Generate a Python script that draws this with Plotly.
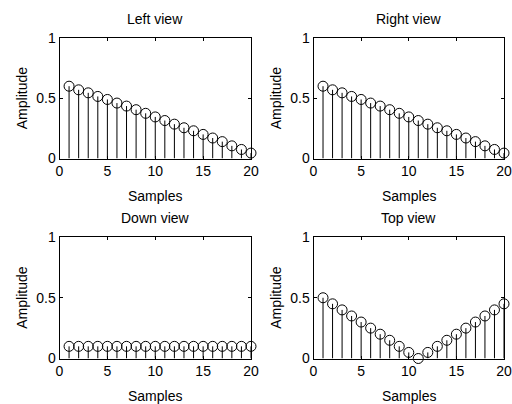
import plotly.graph_objects as go

samples = list(range(1, 21))
left_view = [0.60, 0.57, 0.545, 0.515, 0.49, 0.46, 0.435, 0.405, 0.375, 0.345,
             0.315, 0.285, 0.255, 0.23, 0.20, 0.17, 0.14, 0.105, 0.075, 0.045]
right_view = [0.60, 0.57, 0.545, 0.515, 0.49, 0.46, 0.435, 0.405, 0.375, 0.345,
              0.315, 0.285, 0.255, 0.23, 0.20, 0.17, 0.14, 0.105, 0.075, 0.045]
down_view = [0.10] * 20
top_view = [0.50, 0.45, 0.40, 0.35, 0.30, 0.25, 0.20, 0.15, 0.10, 0.05,
            0.00, 0.05, 0.10, 0.15, 0.20, 0.25, 0.30, 0.35, 0.40, 0.45]

titles = ["Left view", "Right view", "Down view", "Top view"]
series = [left_view, right_view, down_view, top_view]
x_ticks = [0, 5, 10, 15, 20]
y_ticks = [0, 0.5, 1]
y_ticktext = ["0", "0.5", "1"]

W, H = 512, 404
# pixel boxes (left, right, top, bottom)
boxes = [(59.5, 251, 38, 158.5), (313.5, 504, 38, 158.5),
         (59.5, 251, 237, 358.5), (313.5, 504, 237, 358.5)]

FONT = "Liberation Sans, Arial, sans-serif"
FS = 14
fig = go.Figure()
annotations = []

for i, (vals, title, box) in enumerate(zip(series, titles, boxes)):
    n = i + 1
    xa = "x" if n == 1 else f"x{n}"
    ya = "y" if n == 1 else f"y{n}"
    sx, sy = [], []
    for xv, yv in zip(samples, vals):
        sx += [xv, xv, None]
        sy += [0, yv, None]
    fig.add_trace(go.Scatter(x=sx, y=sy, mode="lines", xaxis=xa, yaxis=ya,
                             line=dict(color="black", width=1), showlegend=False,
                             hoverinfo="skip", cliponaxis=False))
    fig.add_trace(go.Scatter(x=samples, y=vals, mode="markers", xaxis=xa, yaxis=ya,
                             marker=dict(symbol="circle-open", size=10,
                                         color="black", line=dict(width=1, color="black")),
                             showlegend=False, cliponaxis=False))
    l, r, t, b = box
    xdom = [l / W, r / W]
    ydom = [1 - b / H, 1 - t / H]
    axcommon = dict(showgrid=False, zeroline=False, showline=True, linecolor="black",
                    linewidth=1, mirror="allticks", ticks="inside", ticklen=3,
                    automargin=False,
                    tickcolor="black", tickfont=dict(family=FONT, size=FS, color="black"))
    fig.layout[("xaxis" if n == 1 else f"xaxis{n}")] = dict(
        domain=xdom, range=[0, 20], tickvals=x_ticks, anchor=ya, ticklabelstandoff=0,
        **axcommon)
    fig.layout[("yaxis" if n == 1 else f"yaxis{n}")] = dict(
        domain=ydom, range=[0, 1], tickvals=y_ticks, ticktext=y_ticktext,
        anchor=xa, ticklabelstandoff=0, **axcommon)
    cx = (l + r) / 2
    annotations.append(dict(text=title, x=cx / W, y=1 - (t - 19) / H, xref="paper",
                            yref="paper", showarrow=False, xanchor="center", yanchor="middle",
                            font=dict(family=FONT, size=FS, color="black")))
    annotations.append(dict(text="Samples", x=cx / W, y=1 - (b + 37) / H, xref="paper",
                            yref="paper", showarrow=False, xanchor="center", yanchor="middle",
                            font=dict(family=FONT, size=FS, color="black")))
    annotations.append(dict(text="Amplitude", x=(l - 37.5) / W, y=1 - ((t + b) / 2) / H,
                            xref="paper", yref="paper", showarrow=False, textangle=-90,
                            xanchor="center", yanchor="middle",
                            font=dict(family=FONT, size=FS, color="black")))

fig.update_layout(width=W, height=H, margin=dict(l=0, r=0, t=0, b=0, autoexpand=False),
                  paper_bgcolor="white", plot_bgcolor="white",
                  annotations=annotations)

fig.write_html("out.html")
